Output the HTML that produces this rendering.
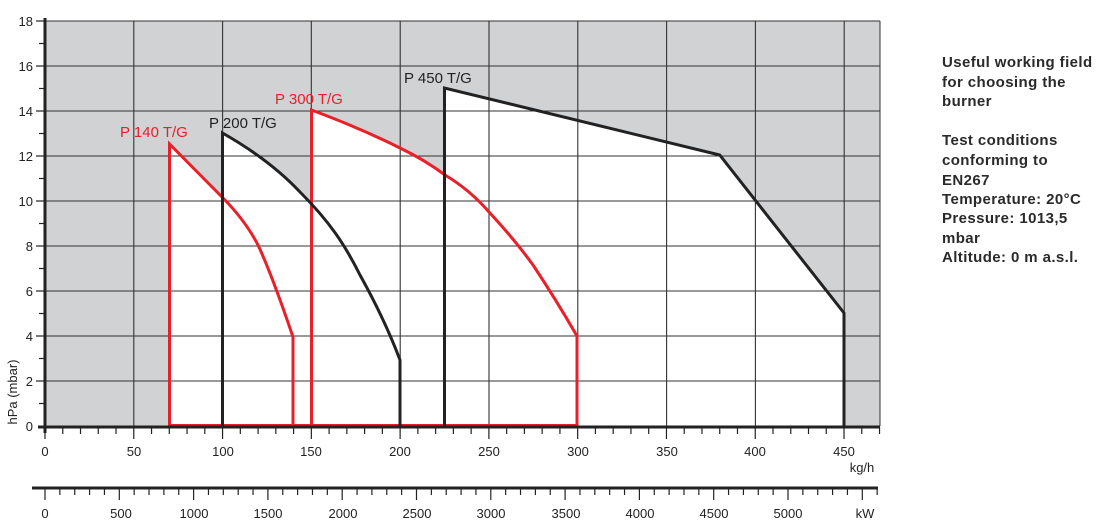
<!DOCTYPE html>
<html><head><meta charset="utf-8"><style>
html,body{margin:0;padding:0;background:#fff;width:1111px;height:531px;overflow:hidden}
svg{display:block;font-family:"Liberation Sans",sans-serif}
</style></head><body>
<svg width="1111" height="531" viewBox="0 0 1111 531">
<rect x="45" y="21" width="835" height="405" fill="#d1d2d4"/>
<g fill="#fff" stroke="none">
<path d="M169.5,426 L169.5,144 L222,197 Q245,220 258,245 Q272,275 293,337 L293,426 Z"/>
<path d="M222.5,426 L222.5,133 Q270,160 300,192 C330,222 345,245 360,275 C375,302 388,328 400,360 L400,426 Z"/>
<path d="M311.5,426 L311.5,110 Q360,128 400,148 Q425,160 445,175 Q470,190 489,212 Q515,240 533,265 Q555,298 577,336 L577,426 Z"/>
<path d="M444.5,426 L444.5,88 L719.7,155 L844,313 L844,426 Z"/>
</g>
<g stroke="#333" stroke-width="1.1">
<line x1="133.8" y1="21" x2="133.8" y2="426"/><line x1="222.6" y1="21" x2="222.6" y2="426"/>
<line x1="311.3" y1="21" x2="311.3" y2="426"/><line x1="400.2" y1="21" x2="400.2" y2="426"/>
<line x1="489" y1="21" x2="489" y2="426"/><line x1="577.8" y1="21" x2="577.8" y2="426"/>
<line x1="666.6" y1="21" x2="666.6" y2="426"/><line x1="755.4" y1="21" x2="755.4" y2="426"/>
<line x1="844.2" y1="21" x2="844.2" y2="426"/>
<line x1="45" y1="21" x2="880" y2="21"/><line x1="45" y1="66" x2="880" y2="66"/>
<line x1="45" y1="111" x2="880" y2="111"/><line x1="45" y1="156" x2="880" y2="156"/>
<line x1="45" y1="201" x2="880" y2="201"/><line x1="45" y1="246" x2="880" y2="246"/>
<line x1="45" y1="291" x2="880" y2="291"/><line x1="45" y1="336" x2="880" y2="336"/>
<line x1="45" y1="381" x2="880" y2="381"/>
</g>
<line x1="880" y1="21" x2="880" y2="426" stroke="#333" stroke-width="1"/>
<g fill="none" stroke-width="3" stroke-linejoin="miter">
<path d="M169.5,426 L169.5,144 L222,197 Q245,220 258,245 Q272,275 293,337 L293,426" stroke="#e8202a"/>
<path d="M311.5,426 L311.5,110 Q360,128 400,148 Q425,160 445,175 Q470,190 489,212 Q515,240 533,265 Q555,298 577,336 L577,426" stroke="#e8202a"/>
<line x1="169.5" y1="425" x2="577" y2="425" stroke="#e8202a" stroke-width="2"/>
<path d="M222.5,426 L222.5,133 Q270,160 300,192 C330,222 345,245 360,275 C375,302 388,328 400,360 L400,426" stroke="#222"/>
<path d="M444.5,426 L444.5,88 L719.7,155 L844,313 L844,426" stroke="#222"/>
</g>
<line x1="45" y1="18" x2="45" y2="433" stroke="#222" stroke-width="3"/>
<line x1="38" y1="427" x2="880" y2="427" stroke="#222" stroke-width="3"/>
<g stroke="#222" stroke-width="1.2">
<line x1="36" y1="21" x2="45" y2="21"/><line x1="36" y1="66" x2="45" y2="66"/><line x1="36" y1="111" x2="45" y2="111"/>
<line x1="36" y1="156" x2="45" y2="156"/><line x1="36" y1="201" x2="45" y2="201"/><line x1="36" y1="246" x2="45" y2="246"/>
<line x1="36" y1="291" x2="45" y2="291"/><line x1="36" y1="336" x2="45" y2="336"/><line x1="36" y1="381" x2="45" y2="381"/>
<line x1="39" y1="43.5" x2="45" y2="43.5"/><line x1="39" y1="88.5" x2="45" y2="88.5"/><line x1="39" y1="133.5" x2="45" y2="133.5"/>
<line x1="39" y1="178.5" x2="45" y2="178.5"/><line x1="39" y1="223.5" x2="45" y2="223.5"/><line x1="39" y1="268.5" x2="45" y2="268.5"/>
<line x1="39" y1="313.5" x2="45" y2="313.5"/><line x1="39" y1="358.5" x2="45" y2="358.5"/><line x1="39" y1="403.5" x2="45" y2="403.5"/>
</g>
<g font-size="13" fill="#222" text-anchor="end">
<text x="33" y="26">18</text><text x="33" y="71">16</text><text x="33" y="116">14</text><text x="33" y="161">12</text>
<text x="33" y="206">10</text><text x="33" y="251">8</text><text x="33" y="296">6</text><text x="33" y="341">4</text>
<text x="33" y="386">2</text><text x="33" y="431">0</text>
</g>
<text transform="translate(17,392) rotate(-90)" font-size="13" fill="#222" text-anchor="middle">hPa (mbar)</text>
<g stroke="#222" stroke-width="1.2" id="xt"></g>
<g font-size="13" fill="#222" text-anchor="middle">
<text x="45" y="456">0</text><text x="134" y="456">50</text><text x="223" y="456">100</text><text x="311" y="456">150</text>
<text x="400" y="456">200</text><text x="489" y="456">250</text><text x="578" y="456">300</text><text x="667" y="456">350</text>
<text x="755" y="456">400</text><text x="844" y="456">450</text>
<text x="862" y="472">kg/h</text>
</g>
<line x1="32" y1="488" x2="878" y2="488" stroke="#222" stroke-width="3"/>
<g stroke="#222" stroke-width="1.2" id="kt"></g>
<g font-size="13" fill="#222" text-anchor="middle">
<text x="45" y="518">0</text><text x="121" y="518">500</text><text x="194" y="518">1000</text><text x="268" y="518">1500</text>
<text x="343" y="518">2000</text><text x="417" y="518">2500</text><text x="491" y="518">3000</text><text x="566" y="518">3500</text>
<text x="640" y="518">4000</text><text x="714" y="518">4500</text><text x="788" y="518">5000</text>
<text x="865" y="518">kW</text>
</g>
<g font-size="15" fill="#e8202a"><text x="120" y="137">P 140 T/G</text><text x="275" y="104">P 300 T/G</text></g>
<g font-size="15" fill="#222"><text x="209" y="128">P 200 T/G</text><text x="404" y="83">P 450 T/G</text></g>
<g font-size="15" fill="#2a2a2a" font-weight="bold" style="letter-spacing:0.4px">
<text x="942" y="67">Useful working field</text><text x="942" y="87">for choosing the</text><text x="942" y="106">burner</text>
<text x="942" y="145">Test conditions</text><text x="942" y="165">conforming to</text><text x="942" y="185">EN267</text>
<text x="942" y="204">Temperature: 20°C</text><text x="942" y="223">Pressure: 1013,5</text><text x="942" y="243">mbar</text>
<text x="942" y="262">Altitude: 0 m a.s.l.</text>
</g>
<script>
var ns="http://www.w3.org/2000/svg";
var xt=document.getElementById("xt");
for(var v=0;v<=470;v+=10){var x=45+v*1.7756;var l=document.createElementNS(ns,"line");l.setAttribute("x1",x);l.setAttribute("x2",x);l.setAttribute("y1",427);l.setAttribute("y2",v%50==0?439:434);xt.appendChild(l);}
var kt=document.getElementById("kt");
for(var k=0;k<=5600;k+=100){var x=45+k*0.1486;if(x>878)break;var l=document.createElementNS(ns,"line");l.setAttribute("x1",x);l.setAttribute("x2",x);l.setAttribute("y1",488);l.setAttribute("y2",k%500==0?500:495);kt.appendChild(l);}
</script>
</svg>
</body></html>
